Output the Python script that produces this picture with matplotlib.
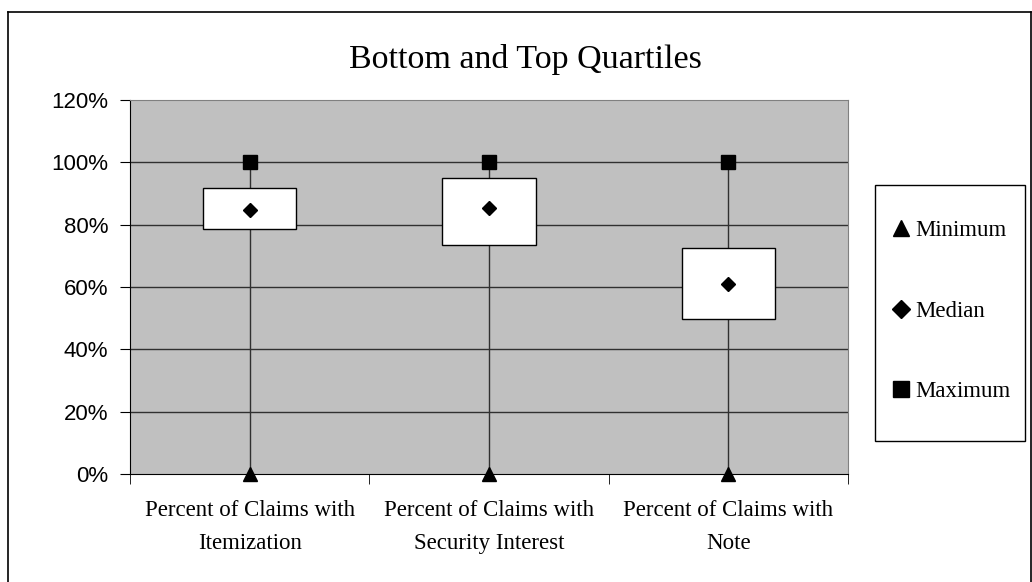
import matplotlib
matplotlib.use("Agg")
import matplotlib.pyplot as plt
from matplotlib.lines import Line2D
from matplotlib.patches import Rectangle

# data (percent)
categories = ["Percent of Claims with\nItemization",
              "Percent of Claims with\nSecurity Interest",
              "Percent of Claims with\nNote"]
minimum = [0, 0, 0]
bottom_q = [78.5, 73.4, 49.7]
median = [84.7, 85.3, 61.0]
top_q = [91.9, 94.9, 72.6]
maximum = [100, 100, 100]
yticks = [0, 20, 40, 60, 80, 100, 120]

W, H = 1032, 582
fig = plt.figure(figsize=(W / 100, H / 100), dpi=100)
fig.patch.set_facecolor("white")

# outer chart border (open at the bottom, as in the reference)
for xs, ys in [((8, 8), (582, 12)), ((8, 1031), (12, 12)), ((1031, 1031), (12, 582))]:
    fig.add_artist(Line2D([x / W for x in xs], [1 - y / H for y in ys],
                          color="black", lw=1.2, transform=fig.transFigure))

ax = fig.add_axes([130 / W, 1 - 474 / H, (848 - 130) / W, (474 - 100) / H])
ax.set_facecolor("#C0C0C0")
ax.set_xlim(-0.5, 2.5)
ax.set_ylim(0, 120)

for y in yticks[1:-1]:
    ax.axhline(y, color="#303030", lw=1, zorder=1)

bw = 0.39
for i in range(len(categories)):
    ax.plot([i, i], [minimum[i], maximum[i]], color="#303030", lw=1, zorder=2)
    ax.add_patch(Rectangle((i - bw / 2, bottom_q[i]), bw, top_q[i] - bottom_q[i],
                           facecolor="white", edgecolor="black", lw=1, zorder=3))

x = range(len(categories))
ax.plot(x, minimum, ls="none", marker="^", ms=10, color="black", zorder=5,
        clip_on=False, label="Minimum")
ax.plot(x, median, ls="none", marker="D", ms=7.5, color="black", zorder=5,
        label="Median")
ax.plot(x, maximum, ls="none", marker="s", ms=9.5, color="black", zorder=5,
        label="Maximum")

for s in ["top", "right"]:
    ax.spines[s].set_color("#808080")
ax.spines["left"].set_color("black")
ax.spines["bottom"].set_color("black")

ax.set_yticks(yticks)
ax.set_yticklabels([f"{v}%" for v in yticks], family="Liberation Sans", fontsize=16)
ax.tick_params(axis="y", direction="out", length=7.5, pad=8, color="black")

ax.set_xticks(list(x))
ax.set_xticklabels(categories, family="Liberation Serif", fontsize=16.5,
                   linespacing=1.7)
ax.set_xticks([-0.5, 0.5, 1.5, 2.5], minor=True)
ax.tick_params(axis="x", which="major", length=0, pad=19)
ax.tick_params(axis="x", which="minor", direction="out", length=7, color="black")

fig.text(0.509, 1 - 68.3 / H, "Bottom and Top Quartiles", family="Liberation Serif",
         fontsize=24.5, ha="center", va="baseline")

# legend frame drawn separately (padding is wider vertically than horizontally)
fig.add_artist(Rectangle((875 / W, 1 - 441 / H), 150 / W, 256 / H, fill=False,
                         edgecolor="black", lw=1, transform=fig.transFigure))
leg = fig.legend(loc="center", bbox_to_anchor=(951 / W, 1 - 311 / H),
                 prop={"family": "Liberation Serif", "size": 16.5},
                 frameon=False, labelspacing=2.6, borderpad=0,
                 handlelength=0.8, handletextpad=0.25, borderaxespad=0)
sizes = [12, 9, 12]
for h, ms in zip(leg.legend_handles, sizes):
    h.set_markersize(ms)

fig.savefig("out.png", dpi=100)
